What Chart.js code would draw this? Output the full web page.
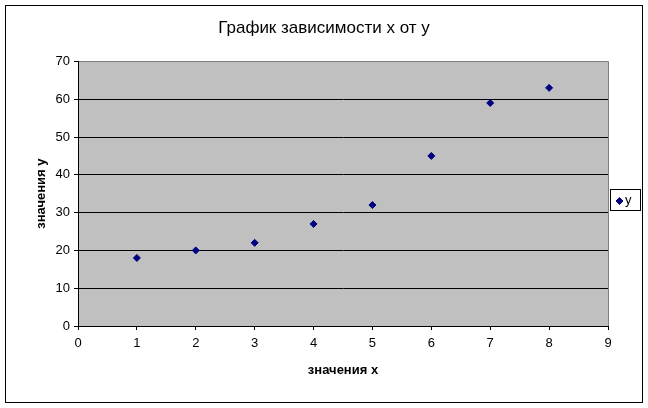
<!DOCTYPE html>
<html>
<head>
<meta charset="utf-8">
<script src="https://cdn.jsdelivr.net/npm/chart.js@4"></script>
<style>
    html, body { margin: 0; padding: 0; background: #fff; }
    canvas { display: block; }
</style>
</head>
<body>
<canvas id="myChart" width="648" height="408"></canvas>
<script>
// data
const xValues = [1, 2, 3, 4, 5, 6, 7, 8];
const yValues = [18, 20, 22, 27, 32, 45, 59, 63];
const seriesName = 'y';
const chartTitle = 'График зависимости x от y';
const xTitle = 'значения x';
const yTitle = 'значения y';

const fontFamily = '"Liberation Sans", Arial, sans-serif';
const markerColor = '#000080';

// фон области построения, серая рамка, внешняя рамка и легенда
const framePlugin = {
    id: 'frame',
    beforeDraw(chart) {
        const { ctx, chartArea: a } = chart;
        ctx.save();
        ctx.fillStyle = '#ffffff';
        ctx.fillRect(0, 0, chart.width, chart.height);
        ctx.fillStyle = '#c0c0c0';
        ctx.fillRect(a.left, a.top, a.right - a.left, a.bottom - a.top);
        ctx.restore();
    },
    beforeDatasetsDraw(chart) {
        const { ctx, chartArea: a } = chart;
        ctx.save();
        ctx.strokeStyle = '#808080';
        ctx.lineWidth = 1;
        ctx.beginPath();
        ctx.moveTo(Math.round(a.left) + 1, Math.round(a.top) + 0.5);
        ctx.lineTo(Math.round(a.right) + 0.5, Math.round(a.top) + 0.5);
        ctx.lineTo(Math.round(a.right) + 0.5, Math.round(a.bottom));
        ctx.stroke();
        ctx.restore();
    },
    afterDraw(chart) {
        const ctx = chart.ctx;
        const ds = chart.data.datasets[0];
        ctx.save();
        // внешняя рамка
        ctx.strokeStyle = '#000';
        ctx.lineWidth = 1;
        ctx.strokeRect(5.5, 5.5, 637, 397);
        // легенда
        ctx.strokeRect(610.5, 189.5, 30, 21);
        ctx.fillStyle = ds.backgroundColor;
        ctx.strokeStyle = ds.borderColor;
        Chart.helpers.drawPoint(ctx, {
            pointStyle: ds.pointStyle,
            radius: ds.pointRadius,
            borderWidth: ds.pointBorderWidth,
            rotation: 0
        }, 619.5, 201);
        ctx.fillStyle = '#000';
        ctx.font = '13px ' + fontFamily;
        ctx.textBaseline = 'middle';
        ctx.textAlign = 'left';
        ctx.fillText(ds.label, 625, 200);
        ctx.restore();
    }
};

const ctx = document.getElementById('myChart').getContext('2d');
window.myChart = new Chart(ctx, {
    type: 'scatter',
    data: {
        datasets: [{
            label: seriesName,
            data: xValues.map((x, i) => ({ x: x, y: yValues[i] })),
            backgroundColor: markerColor,
            borderColor: markerColor,
            pointStyle: 'rectRot',
            pointRadius: 3.5,
            pointBorderWidth: 1,
            showLine: false
        }]
    },
    options: {
        responsive: false,
        maintainAspectRatio: false,
        animation: { duration: 0 },
        devicePixelRatio: 1,
        layout: {
            padding: 0
        },
        plugins: {
            legend: { display: false },
            tooltip: { enabled: false },
            title: {
                display: true,
                text: chartTitle,
                color: '#000',
                font: { family: fontFamily, size: 17, weight: 'normal' },
                padding: { top: 18, bottom: 23 }
            }
        },
        scales: {
            x: {
                type: 'linear',
                min: 0,
                max: 9,
                afterFit(scale) { scale.height = 82; },
                ticks: {
                    stepSize: 1,
                    color: '#000',
                    padding: 6,
                    font: { family: fontFamily, size: 13 }
                },
                grid: {
                    drawOnChartArea: false,
                    color: '#000',
                    tickLength: 4
                },
                border: { color: '#000', width: 1 },
                title: {
                    display: true,
                    text: xTitle,
                    color: '#000',
                    font: { family: fontFamily, size: 13, weight: 'bold' },
                    padding: { top: 0, bottom: 30 }
                }
            },
            y: {
                type: 'linear',
                min: 0,
                max: 70,
                afterFit(scale) { scale.width = 78; },
                ticks: {
                    stepSize: 10,
                    color: '#000',
                    padding: 4,
                    font: { family: fontFamily, size: 13 }
                },
                grid: {
                    color: '#000',
                    tickLength: 4
                },
                border: { color: '#000', width: 1 },
                title: {
                    display: true,
                    text: yTitle,
                    color: '#000',
                    font: { family: fontFamily, size: 13, weight: 'bold' },
                    padding: { top: 34, bottom: 0 }
                }
            },
            // пустая ось справа: оставляет место под легенду
            yRight: {
                type: 'linear',
                position: 'right',
                afterFit(scale) { scale.width = 40; },
                ticks: { display: false },
                grid: { display: false },
                border: { display: false }
            }
        }
    },
    plugins: [framePlugin]
});
</script>
</body>
</html>
